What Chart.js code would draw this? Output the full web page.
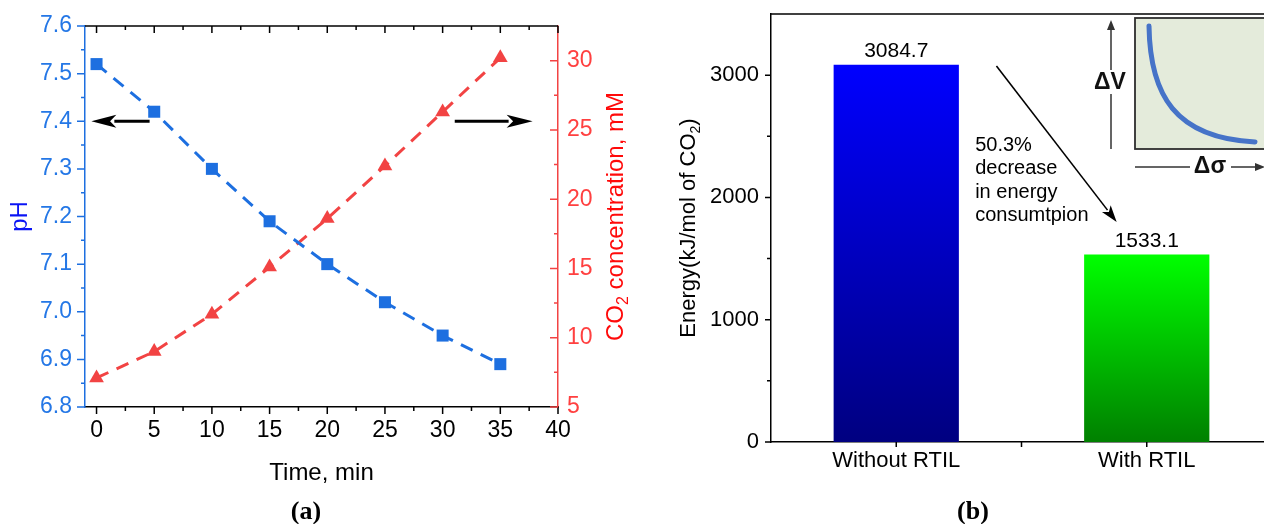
<!DOCTYPE html>
<html>
<head>
<meta charset="utf-8">
<script src="https://cdn.jsdelivr.net/npm/chart.js@4.4.1/dist/chart.umd.min.js"></script>
<style>
    html, body { margin: 0; padding: 0; background: #fff; overflow: hidden; }
    body { width: 1264px; height: 524px; position: relative; }
    canvas { position: absolute; top: 0; }
    #chartA { left: 0; }
    #chartB { left: 640px; }
    .panel { position: absolute; width: 100px; text-align: center; font: bold 26px "Liberation Serif", "Times New Roman", serif; color: #000; }
</style>
</head>
<body>
<canvas id="chartA" width="640" height="524"></canvas>
<canvas id="chartB" width="640" height="524"></canvas>
<div class="panel" style="left:256px; top:496px">(a)</div>
<div class="panel" style="left:923px; top:496px">(b)</div>
<script>
"use strict";

// (a) pH and CO2 vs time
const timeMin = [0, 5, 10, 15, 20, 25, 30, 35];
const phValues = [7.52, 7.42, 7.30, 7.19, 7.10, 7.02, 6.95, 6.89];
const co2Values = [7.1, 9.0, 11.7, 15.1, 18.6, 22.4, 26.3, 30.2];
const timeTicks = [0, 5, 10, 15, 20, 25, 30, 35, 40];
const phTicks = [6.8, 6.9, 7.0, 7.1, 7.2, 7.3, 7.4, 7.5, 7.6];
const co2Ticks = [5, 10, 15, 20, 25, 30];

// (b) energy
const categories = ["Without RTIL", "With RTIL"];
const energyValues = [3084.7, 1533.1];
const energyTicks = [0, 1000, 2000, 3000];

const FONT = "\"Liberation Sans\", Arial, sans-serif";
const BLUE = "#1d6fe0";
const BLUE_TICK = "#2477e6";
const BLUE_TITLE = "#0a14f5";
const RED = "#f24343";
const RED_TICK = "#ff4040";
const RED_TITLE = "#ff0a0a";

Chart.defaults.font.family = FONT;
Chart.defaults.animation = false;

const midpoints = arr => arr.slice(1).map((v, i) => (arr[i] + v) / 2);
const fixTicks = list => scale => { scale.ticks = list.map(v => ({value: v})); };

function font(size, bold) {
    return (bold ? "bold " : "") + size + "px " + FONT;
}

function drawRich(ctx, parts, x, y, size, color, rotate) {
    const sub = Math.round(size * 0.65);
    ctx.save();
    ctx.translate(x, y);
    if (rotate) {
        ctx.rotate(-Math.PI / 2);
    }
    ctx.fillStyle = color;
    ctx.textAlign = "left";
    ctx.textBaseline = "alphabetic";
    const widths = parts.map(p => {
        ctx.font = font(p.sub ? sub : size);
        return ctx.measureText(p.t).width;
    });
    let cx = -widths.reduce((a, b) => a + b) / 2;
    parts.forEach((p, i) => {
        ctx.font = font(p.sub ? sub : size);
        ctx.fillText(p.t, cx, p.sub ? size * 0.22 : 0);
        cx += widths[i];
    });
    ctx.restore();
}

function arrow(ctx, x0, y0, x1, y1, head, half, width, color) {
    const a = Math.atan2(y1 - y0, x1 - x0);
    const bx = x1 - Math.cos(a) * head, by = y1 - Math.sin(a) * head;
    ctx.save();
    ctx.strokeStyle = color;
    ctx.fillStyle = color;
    ctx.lineWidth = width;
    ctx.beginPath();
    ctx.moveTo(x0, y0);
    ctx.lineTo(bx + Math.cos(a) * 2, by + Math.sin(a) * 2);
    ctx.stroke();
    ctx.beginPath();
    ctx.moveTo(x1, y1);
    ctx.lineTo(bx + Math.sin(a) * half, by - Math.cos(a) * half);
    ctx.lineTo(bx + Math.cos(a) * head * 0.25, by + Math.sin(a) * head * 0.25);
    ctx.lineTo(bx - Math.sin(a) * half, by + Math.cos(a) * half);
    ctx.closePath();
    ctx.fill();
    ctx.restore();
}

// tick marks (major + minor, inward or outward) drawn from the scales
const tickMarks = {
    id: "tickMarks",
    afterDraw (chart, args, opts) {
        const ctx = chart.ctx, area = chart.chartArea;
        ctx.save();
        (opts.sets || []).forEach(s => {
            const scale = chart.scales[s.scale];
            ctx.strokeStyle = s.color;
            ctx.lineWidth = 1.5;
            ctx.beginPath();
            s.values.forEach(v => {
                const p = scale.getPixelForValue(v);
                const d = s.len * s.dir;
                switch (s.edge) {
                case "bottom":
                    ctx.moveTo(p, area.bottom); ctx.lineTo(p, area.bottom + d);
                    break;
                case "top":
                    ctx.moveTo(p, area.top); ctx.lineTo(p, area.top - d);
                    break;
                case "left":
                    ctx.moveTo(area.left, p); ctx.lineTo(area.left - d, p);
                    break;
                case "right":
                    ctx.moveTo(area.right, p); ctx.lineTo(area.right + d, p);
                    break;
                }
            });
            ctx.stroke();
        });
        if (opts.topLine) {
            ctx.strokeStyle = "#000";
            ctx.lineWidth = 1.5;
            ctx.beginPath();
            ctx.moveTo(area.left, area.top);
            ctx.lineTo(area.right, area.top);
            ctx.stroke();
        }
        ctx.restore();
    }
};

// ---------- (a) ----------
const decorA = {
    id: "decorA",
    afterDraw (chart) {
        const ctx = chart.ctx, area = chart.chartArea;
        const x = chart.scales.x, y = chart.scales.y;
        const cy = (area.top + area.bottom) / 2;

        drawRich(ctx, [{t: "pH"}], area.left - 58, cy, 24, BLUE_TITLE, true);
        drawRich(ctx, [{t: "CO"}, {t: "2", sub: true}, {t: " concentration, mM"}], area.right + 65, cy, 24, RED_TITLE, true);
        drawRich(ctx, [{t: "Time, min"}], (area.left + area.right) / 2, area.bottom + 73, 24, "#000", false);

        const ay = y.getPixelForValue(7.4);
        arrow(ctx, x.getPixelForValue(4.6), ay, x.getPixelForValue(-0.45), ay, 25, 6.5, 3, "#000");
        arrow(ctx, x.getPixelForValue(31.05), ay, x.getPixelForValue(37.8), ay, 26, 6.5, 3, "#000");
    }
};

new Chart(document.getElementById("chartA"), {
    type: "line",
    data: {
        datasets: [{
            data: timeMin.map((t, i) => ({x: t, y: phValues[i]})),
            yAxisID: "y",
            borderColor: BLUE,
            backgroundColor: BLUE,
            borderWidth: 3,
            borderDash: [13, 9],
            pointStyle: "rect",
            pointRadius: 8.5,
            pointBorderWidth: 0,
            tension: 0
        }, {
            data: timeMin.map((t, i) => ({x: t, y: co2Values[i]})),
            yAxisID: "y1",
            borderColor: RED,
            backgroundColor: RED,
            borderWidth: 3,
            borderDash: [13, 9],
            pointStyle: "triangle",
            pointRadius: 8.5,
            pointBorderWidth: 0,
            tension: 0
        }]
    },
    options: {
        responsive: false,
        layout: {padding: {top: 26, left: 0, right: 0, bottom: 0}},
        plugins: {
            legend: {display: false},
            tooltip: {enabled: false},
            tickMarks: {
                topLine: true,
                sets: [
                    {scale: "x", edge: "bottom", dir: 1, len: 7, color: "#000", values: timeTicks},
                    {scale: "x", edge: "bottom", dir: 1, len: 4, color: "#000", values: midpoints(timeTicks)},
                    {scale: "x", edge: "top", dir: -1, len: 7, color: "#000", values: timeTicks},
                    {scale: "x", edge: "top", dir: -1, len: 4, color: "#000", values: midpoints(timeTicks)},
                    {scale: "y", edge: "left", dir: 1, len: 8, color: BLUE, values: phTicks},
                    {scale: "y", edge: "left", dir: 1, len: 4, color: BLUE, values: midpoints(phTicks)},
                    {scale: "y1", edge: "right", dir: -1, len: 8, color: RED, values: co2Ticks},
                    {scale: "y1", edge: "right", dir: -1, len: 4, color: RED, values: midpoints(co2Ticks)}
                ]
            }
        },
        scales: {
            x: {
                type: "linear",
                min: -1,
                max: 40,
                afterBuildTicks: fixTicks(timeTicks),
                afterFit: s => { s.height = 117; },
                grid: {display: false, drawTicks: false},
                border: {color: "#000", width: 1.5},
                ticks: {color: "#000", font: {size: 23}, padding: 10, maxRotation: 0, autoSkip: false}
            },
            y: {
                position: "left",
                min: 6.8,
                max: 7.6,
                afterBuildTicks: fixTicks(phTicks),
                afterFit: s => { s.width = 85; s.paddingTop = 0; s.paddingBottom = 0; },
                grid: {display: false, drawTicks: false},
                border: {color: BLUE, width: 1.5},
                ticks: {color: BLUE_TICK, font: {size: 23}, padding: 13, callback: v => v.toFixed(1)}
            },
            y1: {
                position: "right",
                min: 5,
                max: 32.5,
                afterBuildTicks: fixTicks(co2Ticks),
                afterFit: s => { s.width = 82; s.paddingTop = 0; s.paddingBottom = 0; },
                grid: {display: false, drawTicks: false},
                border: {color: RED, width: 1.5},
                ticks: {color: RED_TICK, font: {size: 23}, padding: 9}
            }
        }
    },
    plugins: [tickMarks, decorA]
});

// ---------- (b) ----------
const barGradients = [["#0000ff", "#000080"], ["#00ff00", "#008000"]];

function barFill (c) {
    const chart = c.chart, area = chart.chartArea;
    const stops = barGradients[c.dataIndex];
    if (!area) {
        return stops[0];
    }
    const top = chart.scales.y.getPixelForValue(energyValues[c.dataIndex]);
    const g = chart.ctx.createLinearGradient(0, top, 0, area.bottom);
    g.addColorStop(0, stops[0]);
    g.addColorStop(1, stops[1]);
    return g;
}

const decorB = {
    id: "decorB",
    afterDraw (chart) {
        const ctx = chart.ctx, area = chart.chartArea;
        const x = chart.scales.x, y = chart.scales.y;

        drawRich(ctx, [{t: "Energy(kJ/mol of CO"}, {t: "2", sub: true}, {t: ")"}], area.left - 76, (area.top + area.bottom) / 2, 22, "#000", true);

        // value labels over the bars
        ctx.save();
        ctx.fillStyle = "#000";
        ctx.font = font(21);
        ctx.textAlign = "center";
        ctx.textBaseline = "alphabetic";
        chart.getDatasetMeta(0).data.forEach((bar, i) => {
            ctx.fillText(energyValues[i].toFixed(1), bar.x, bar.y - 8);
        });

        // decrease note
        ctx.textAlign = "left";
        ctx.font = font(20);
        const lines = ["50.3%", "decrease", "in energy", "consumtpion"];
        const tx = x.getPixelForValue(0.315), ty = y.getPixelForValue(2380);
        lines.forEach((l, i) => ctx.fillText(l, tx, ty + i * 23.5));
        ctx.restore();

        arrow(ctx, x.getPixelForValue(0.4), y.getPixelForValue(3074), x.getPixelForValue(0.88), y.getPixelForValue(1799), 17, 5.5, 1.6, "#000");

        // inset sketch: dV vs d(sigma)
        const bx = area.right - 137, bt = area.top + 4, bb = area.top + 135;
        ctx.save();
        ctx.fillStyle = "#e4ebdb";
        ctx.strokeStyle = "#2e2e2e";
        ctx.lineWidth = 1.8;
        ctx.fillRect(bx, bt, 200, bb - bt);
        ctx.strokeRect(bx, bt, 200, bb - bt);

        ctx.strokeStyle = "#4673c8";
        ctx.lineWidth = 5;
        ctx.lineCap = "round";
        ctx.beginPath();
        ctx.moveTo(bx + 14, bt + 8);
        ctx.bezierCurveTo(bx + 15, bt + 77, bx + 40, bt + 120, bx + 120, bt + 124);
        ctx.stroke();
        ctx.restore();

        const vx = bx - 24;
        ctx.save();
        ctx.strokeStyle = "#333";
        ctx.lineWidth = 1.5;
        ctx.beginPath();
        ctx.moveTo(vx, bb);
        ctx.lineTo(vx, bt + 76);
        ctx.moveTo(vx, bt + 52);
        ctx.lineTo(vx, bt + 6);
        ctx.stroke();
        ctx.fillStyle = "#333";
        ctx.beginPath();
        ctx.moveTo(vx, bt + 2);
        ctx.lineTo(vx - 4, bt + 12);
        ctx.lineTo(vx + 4, bt + 12);
        ctx.closePath();
        ctx.fill();

        const hy = bb + 18;
        ctx.beginPath();
        ctx.moveTo(bx, hy);
        ctx.lineTo(bx + 55, hy);
        ctx.moveTo(bx + 96, hy);
        ctx.lineTo(bx + 124, hy);
        ctx.stroke();
        ctx.beginPath();
        ctx.moveTo(bx + 130, hy);
        ctx.lineTo(bx + 120, hy - 4);
        ctx.lineTo(bx + 120, hy + 4);
        ctx.closePath();
        ctx.fill();

        ctx.fillStyle = "#111";
        ctx.font = font(23, true);
        ctx.textAlign = "center";
        ctx.textBaseline = "middle";
        ctx.fillText("\u0394V", vx - 1, bt + 65);
        ctx.fillText("\u0394\u03c3", bx + 75, hy);
        ctx.restore();
    }
};

new Chart(document.getElementById("chartB"), {
    type: "bar",
    data: {
        labels: categories,
        datasets: [{
            data: energyValues,
            backgroundColor: barFill,
            borderWidth: 0,
            barPercentage: 0.5,
            categoryPercentage: 1
        }]
    },
    options: {
        responsive: false,
        layout: {padding: {top: 14, left: 0, right: 8, bottom: 0}},
        plugins: {
            legend: {display: false},
            tooltip: {enabled: false},
            tickMarks: {
                topLine: true,
                sets: [
                    {scale: "x", edge: "bottom", dir: 1, len: 5, color: "#000", values: [0, 0.5, 1]},
                    {scale: "y", edge: "left", dir: 1, len: 6, color: "#000", values: energyTicks},
                    {scale: "y", edge: "left", dir: 1, len: 4, color: "#000", values: midpoints(energyTicks)}
                ]
            }
        },
        scales: {
            x: {
                afterFit: s => { s.height = 82; },
                grid: {display: false, drawTicks: false},
                border: {color: "#000", width: 1.5},
                ticks: {color: "#000", font: {size: 22}, padding: 6, maxRotation: 0}
            },
            y: {
                min: 0,
                max: 3500,
                afterBuildTicks: fixTicks(energyTicks),
                afterFit: s => { s.width = 131; s.paddingTop = 0; s.paddingBottom = 0; },
                grid: {display: false, drawTicks: false},
                border: {color: "#000", width: 1.5},
                ticks: {color: "#000", font: {size: 22}, padding: 12, callback: v => String(v)}
            }
        }
    },
    plugins: [tickMarks, decorB]
});
</script>
</body>
</html>
